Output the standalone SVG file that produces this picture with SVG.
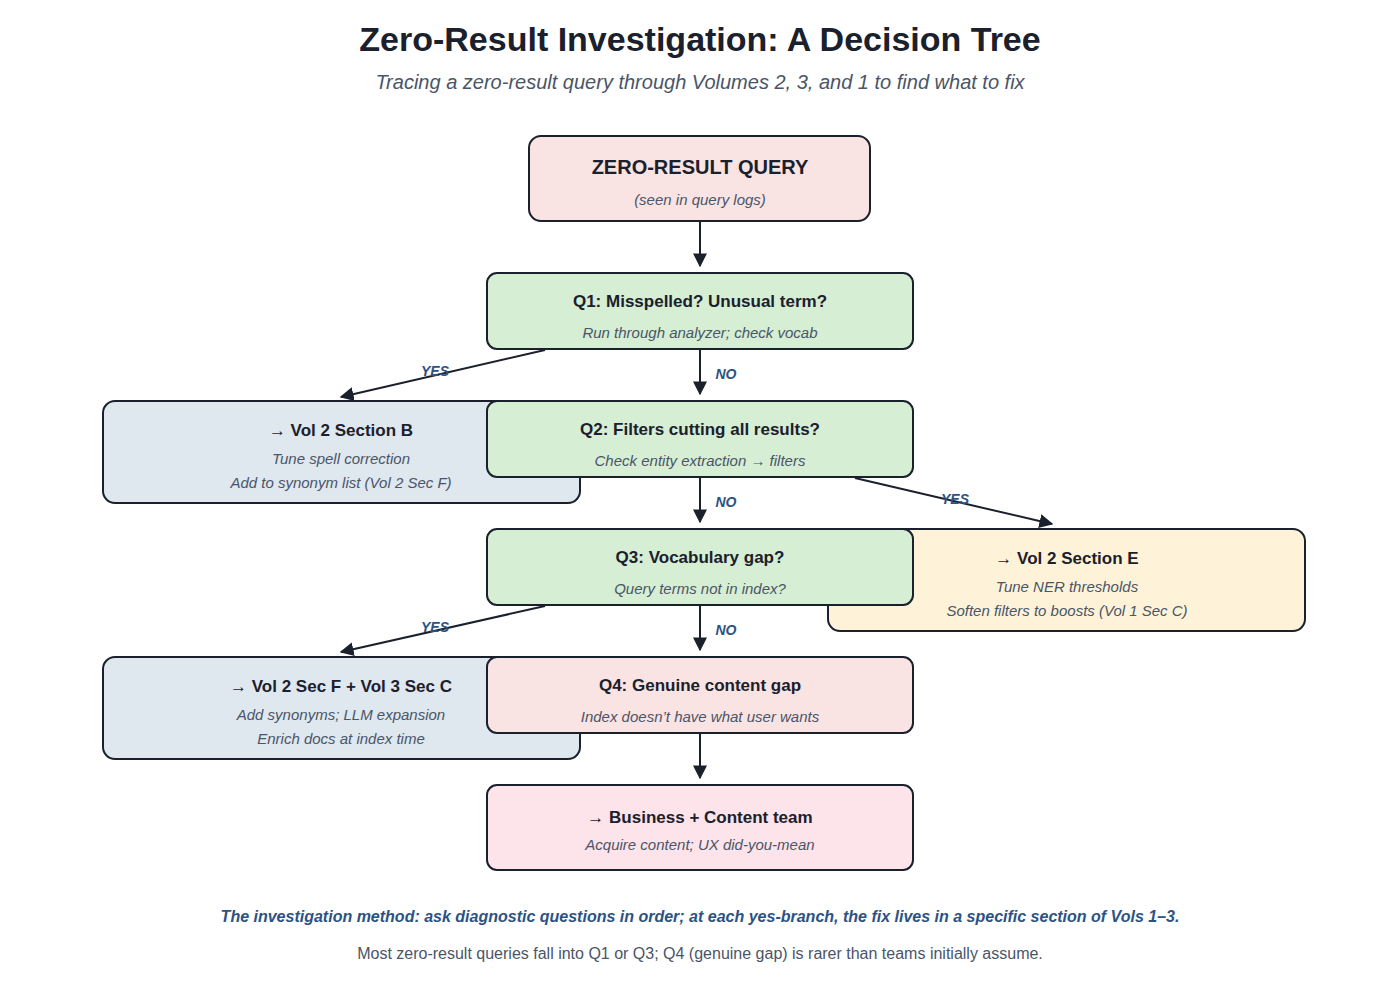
<svg xmlns="http://www.w3.org/2000/svg" width="1400" height="990" viewBox="0 0 1400 990">
<style>
text{font-family:"Liberation Sans",Arial,sans-serif;text-anchor:middle}
.t{font-size:17px;font-weight:bold;fill:#1a202c}
.s{font-size:15px;font-style:italic;fill:#4a5568}
.lb{font-size:14px;font-style:italic;font-weight:bold;fill:#2c5282}
.b{stroke:#1a202c;stroke-width:2}
.e{stroke:#1a202c;stroke-width:2;fill:none;marker-end:url(#a)}
</style>
<defs><marker id="a" viewBox="0 0 10 10" refX="9" refY="5" markerWidth="7" markerHeight="7" orient="auto"><path d="M0,0L10,5L0,10z" fill="#1a202c"/></marker></defs>
<rect width="1400" height="990" fill="#fff"/>
<text x="700" y="51" style="font-size:34px;font-weight:bold;fill:#1a202c">Zero-Result Investigation: A Decision Tree</text>
<text x="700" y="89" style="font-size:20px;font-style:italic;fill:#4a5568">Tracing a zero-result query through Volumes 2, 3, and 1 to find what to fix</text>
<g id="nB"><rect class="b" x="103" y="401" width="477" height="102" rx="12" fill="#dfe7ef"/><text class="t" x="341" y="436">→ Vol 2 Section B</text><text class="s" x="341" y="464">Tune spell correction</text><text class="s" x="341" y="488">Add to synonym list (Vol 2 Sec F)</text></g>
<g id="nE"><rect class="b" x="828" y="529" width="477" height="102" rx="12" fill="#fef3d8"/><text class="t" x="1067" y="564">→ Vol 2 Section E</text><text class="s" x="1067" y="592">Tune NER thresholds</text><text class="s" x="1067" y="616">Soften filters to boosts (Vol 1 Sec C)</text></g>
<g id="nF"><rect class="b" x="103" y="657" width="477" height="102" rx="12" fill="#dfe7ef"/><text class="t" x="341" y="692">→ Vol 2 Sec F + Vol 3 Sec C</text><text class="s" x="341" y="720">Add synonyms; LLM expansion</text><text class="s" x="341" y="744">Enrich docs at index time</text></g>
<g id="n0"><rect class="b" x="529" y="136" width="341" height="85" rx="12" fill="#fae3e3"/><text x="700" y="174" style="font-size:20px;font-weight:bold;fill:#1a202c">ZERO-RESULT QUERY</text><text class="s" x="700" y="205">(seen in query logs)</text></g>
<g id="q1"><rect class="b" x="487" y="273" width="426" height="76" rx="10" fill="#d6eed4"/><text class="t" x="700" y="307">Q1: Misspelled? Unusual term?</text><text class="s" x="700" y="338">Run through analyzer; check vocab</text></g>
<g id="q2"><rect class="b" x="487" y="401" width="426" height="76" rx="10" fill="#d6eed4"/><text class="t" x="700" y="435">Q2: Filters cutting all results?</text><text class="s" x="700" y="466">Check entity extraction → filters</text></g>
<g id="q3"><rect class="b" x="487" y="529" width="426" height="76" rx="10" fill="#d6eed4"/><text class="t" x="700" y="563">Q3: Vocabulary gap?</text><text class="s" x="700" y="594">Query terms not in index?</text></g>
<g id="q4"><rect class="b" x="487" y="657" width="426" height="76" rx="10" fill="#fae3e3"/><text class="t" x="700" y="691">Q4: Genuine content gap</text><text class="s" x="700" y="722">Index doesn’t have what user wants</text></g>
<g id="nG"><rect class="b" x="487" y="785" width="426" height="85" rx="10" fill="#fce4ea"/><text class="t" x="700" y="823">→ Business + Content team</text><text class="s" x="700" y="850">Acquire content; UX did-you-mean</text></g>
<g id="edges">
<path class="e" d="M700,221V266"/>
<path class="e" d="M545,350L341,397"/>
<path class="e" d="M700,350V394"/>
<path class="e" d="M855,478L1052,524"/>
<path class="e" d="M700,478V522"/>
<path class="e" d="M545,606L341,652"/>
<path class="e" d="M700,606V650"/>
<path class="e" d="M700,734V778"/>
<text class="lb" x="435" y="376">YES</text>
<text class="lb" x="726" y="379">NO</text>
<text class="lb" x="955" y="504">YES</text>
<text class="lb" x="726" y="507">NO</text>
<text class="lb" x="435" y="632">YES</text>
<text class="lb" x="726" y="635">NO</text>
</g>
<text x="700" y="922" style="font-size:16px;font-weight:bold;font-style:italic;fill:#2c5282">The investigation method: ask diagnostic questions in order; at each yes-branch, the fix lives in a specific section of Vols 1–3.</text>
<text x="700" y="959" style="font-size:16px;fill:#4a5568">Most zero-result queries fall into Q1 or Q3; Q4 (genuine gap) is rarer than teams initially assume.</text>
</svg>
